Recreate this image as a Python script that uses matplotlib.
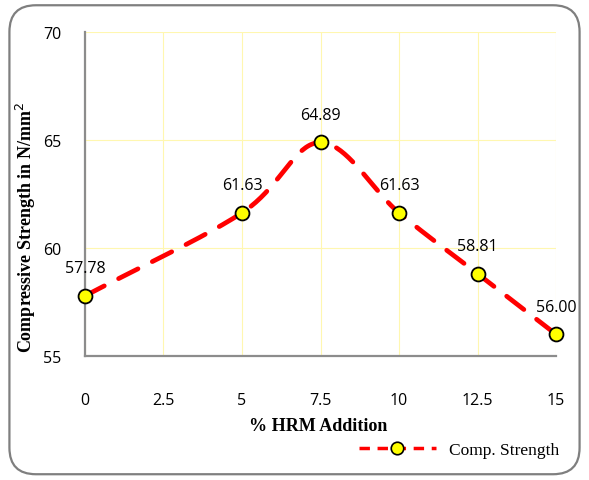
import numpy as np
import matplotlib.pyplot as plt
from matplotlib.patches import FancyBboxPatch
from matplotlib.lines import Line2D

# data
hrm = [0, 5, 7.5, 10, 12.5, 15]
strength = [57.78, 61.63, 64.89, 61.63, 58.81, 56.00]
labels = ['57.78', '61.63', '64.89', '61.63', '58.81', '56.00']
xticks = [0, 2.5, 5, 7.5, 10, 12.5, 15]
yticks = [55, 60, 65, 70]


def smooth(x, y, n=40):
    # Excel-like smoothed line (Catmull-Rom through the points)
    x = np.asarray(x, float)
    y = np.asarray(y, float)
    px = np.concatenate([[2 * x[0] - x[1]], x, [2 * x[-1] - x[-2]]])
    py = np.concatenate([[2 * y[0] - y[1]], y, [2 * y[-1] - y[-2]]])
    xs, ys = [], []
    t = np.linspace(0, 1, n)
    for i in range(1, len(px) - 2):
        for p, out in ((px, xs), (py, ys)):
            p0, p1, p2, p3 = p[i - 1], p[i], p[i + 1], p[i + 2]
            out.extend(0.5 * ((2 * p1) + (-p0 + p2) * t
                              + (2 * p0 - 5 * p1 + 4 * p2 - p3) * t ** 2
                              + (-p0 + 3 * p1 - 3 * p2 + p3) * t ** 3))
    return np.array(xs), np.array(ys)


fig = plt.figure(figsize=(5.89, 4.81), dpi=100)
ax = fig.add_axes([0.1443, 0.258, 0.7997, 0.673])

# rounded frame around the chart
frame = FancyBboxPatch((0.016, 0.012), 0.968, 0.975, boxstyle='round,pad=0,rounding_size=0.045',
                       transform=fig.transFigure, fill=False, edgecolor='#7f7f7f', lw=1.6,
                       mutation_aspect=589 / 481)
fig.patches.append(frame)

sx, sy = smooth(hrm, strength)
ax.plot(sx, sy, color='#ff0000', lw=3.4, dashes=(4.6, 3.4), dash_capstyle='round', zorder=3,
        clip_on=False)
ax.plot(hrm, strength, 'o', ms=10, mfc='#ffff00', mec='black', mew=1.3, zorder=4, clip_on=False)

for x, y, t in zip(hrm, strength, labels):
    ax.annotate(t, (x, y), xytext=(0, 20), textcoords='offset points', ha='center', va='center',
                fontsize=11.5, family='Open Sans', color='black')

ax.set_xlim(0, 15)
ax.set_ylim(55, 70)
ax.set_xticks(xticks)
ax.set_xticklabels(['0', '2.5', '5', '7.5', '10', '12.5', '15'])
ax.set_yticks(yticks)
ax.tick_params(length=0, labelsize=11.5)
ax.tick_params(axis='x', pad=26)
ax.tick_params(axis='y', pad=17)
for lab in ax.get_xticklabels() + ax.get_yticklabels():
    lab.set_family('Open Sans')
ax.grid(color='#fff7b0', lw=0.8)
ax.set_axisbelow(True)
for s in ['top', 'right']:
    ax.spines[s].set_visible(False)
for s in ['left', 'bottom']:
    ax.spines[s].set_color('#8c8c8c')
    ax.spines[s].set_linewidth(1.6)

ax.set_xlabel('% HRM Addition', family='Liberation Serif', fontweight='bold', fontsize=13)
ax.xaxis.set_label_coords(0.495, -0.19)
ax.set_ylabel('Compressive Strength in N/mm$^2$', family='Liberation Serif', fontweight='bold',
              fontsize=13)
ax.yaxis.set_label_coords(-0.10, 0.40)

handle = Line2D([], [], color='#ff0000', lw=2.5, dashes=(3, 2.2), marker='o', ms=9,
                mfc='#ffff00', mec='black', mew=1.2)
ax.legend([handle], ['Comp. Strength'], loc='center', bbox_to_anchor=(0.795, -0.29),
          frameon=False, prop={'family': 'Liberation Serif', 'size': 12.5}, handlelength=4.4)

fig.savefig('out.png', dpi=100)
